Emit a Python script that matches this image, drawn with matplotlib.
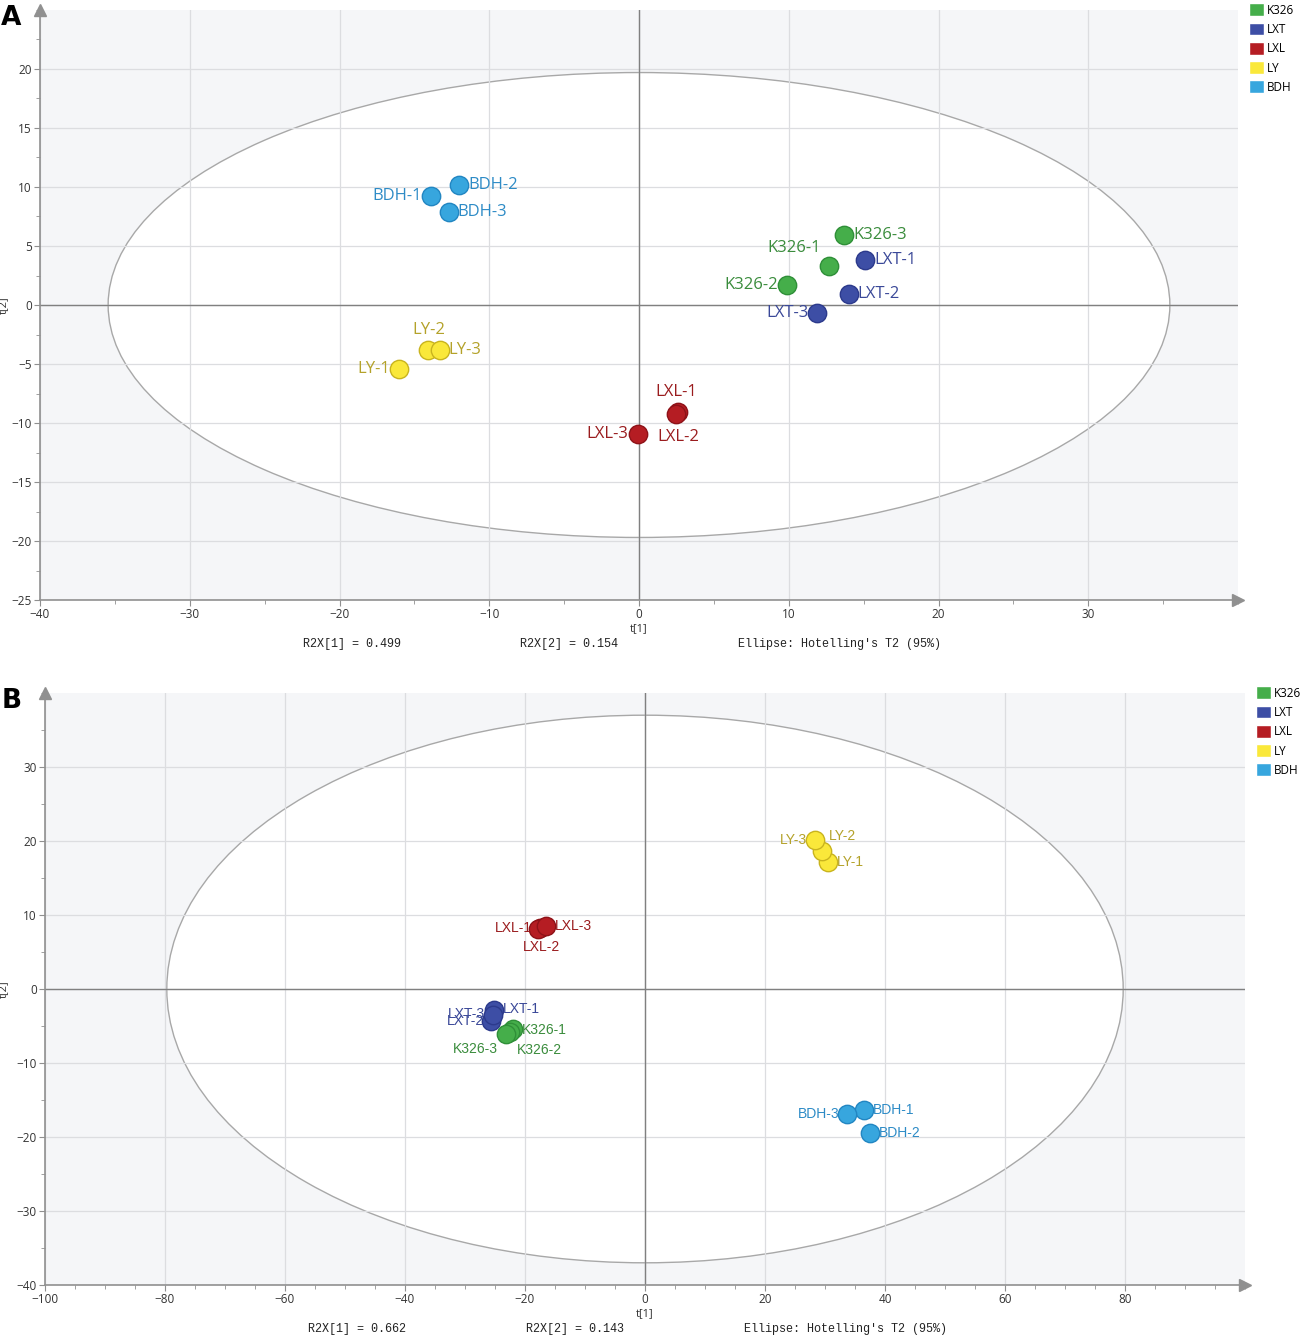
import numpy as np
import matplotlib.pyplot as plt
from matplotlib.patches import Ellipse, Patch
from matplotlib.ticker import MultipleLocator

plt.rcParams['font.family'] = ['Open Sans', 'DejaVu Sans']

groups = ["K326", "LXT", "LXL", "LY", "BDH"]
fill_col = {"K326": "#45AE4A", "LXT": "#3D4EA5", "LXL": "#B51D23", "LY": "#FAE83A", "BDH": "#37A6DE"}
edge_col = {"K326": "#2F8F38", "LXT": "#2C3A8C", "LXL": "#8E1218", "LY": "#C9B41E", "BDH": "#2286C2"}
text_col = {"K326": "#3A8C3C", "LXT": "#3A4898", "LXL": "#9A1C1E", "LY": "#B4A22A", "BDH": "#2D8BC6"}

# panel A scores
a_names = ["K326-1", "K326-2", "K326-3", "LXT-1", "LXT-2", "LXT-3",
           "LXL-1", "LXL-2", "LXL-3", "LY-1", "LY-2", "LY-3",
           "BDH-1", "BDH-2", "BDH-3"]
a_t1 = [12.7, 9.9, 13.7, 15.1, 14.0, 11.9, 2.6, 2.5, -0.1, -16.0, -14.1, -13.3, -13.9, -12.0, -12.7]
a_t2 = [3.3, 1.7, 5.9, 3.8, 0.9, -0.7, -9.1, -9.2, -10.9, -5.4, -3.8, -3.8, 9.2, 10.2, 7.9]
a_r2x = ["0.499", "0.154"]
a_ellipse = (35.45, 19.7)

# panel B scores
b_names = a_names
b_t1 = [-22.0, -22.5, -23.2, -25.2, -25.7, -25.3, -17.5, -17.8, -16.5, 30.5, 29.5, 28.3, 36.5, 37.5, 33.7]
b_t2 = [-5.4, -5.8, -6.1, -2.9, -4.3, -3.5, 8.3, 8.1, 8.5, 17.2, 18.7, 20.2, -16.3, -19.4, -16.9]
b_r2x = ["0.662", "0.143"]
b_ellipse = (79.7, 37.0)

# label placement (pixel offsets, ha)
a_lab = {"K326-1": (-35, 18, "center"), "K326-2": (-9, 0, "right"), "K326-3": (9, 0, "left"),
         "LXT-1": (9, 0, "left"), "LXT-2": (9, 0, "left"), "LXT-3": (-9, 0, "right"),
         "LXL-1": (-2, 20, "center"), "LXL-2": (2, -23, "center"), "LXL-3": (-9, 0, "right"),
         "LY-1": (-9, 0, "right"), "LY-2": (1, 20, "center"), "LY-3": (9, 0, "left"),
         "BDH-1": (-9, 0, "right"), "BDH-2": (9, 0, "left"), "BDH-3": (9, 0, "left")}
b_lab = {"K326-1": (9, -1, "left"), "K326-2": (29, -18, "center"), "K326-3": (-30, -15, "center"),
         "LXT-1": (9, 1, "left"), "LXT-2": (-7, 0, "right"), "LXT-3": (-8, 1, "right"),
         "LXL-1": (-8, 0, "right"), "LXL-2": (3, -18, "center"), "LXL-3": (9, 0, "left"),
         "LY-1": (9, 0, "left"), "LY-2": (7, 15, "left"), "LY-3": (-8, 0, "right"),
         "BDH-1": (9, 0, "left"), "BDH-2": (9, 0, "left"), "BDH-3": (-8, 0, "right")}

fig = plt.figure(figsize=(13.04, 13.40), dpi=100)


def panel(rect, t1, t2, names, labs, ell, xlim, ylim, xmaj, xmin, ymaj, ymin,
          r2x, letter, lab_font, lab_size, leg_x, r2x_pos, r2x_x):
    ax = fig.add_axes(rect)
    ax.set_facecolor("#F5F6F8")
    ax.add_patch(Ellipse((0, 0), 2 * ell[0], 2 * ell[1], facecolor="white",
                         edgecolor="#A8A8A8", lw=1.0, zorder=1))
    ax.set_xticks(np.arange(xlim[0], xlim[1], xmaj))
    ax.set_yticks(np.arange(ylim[0], ylim[1], ymaj))
    ax.xaxis.set_minor_locator(MultipleLocator(xmin))
    ax.yaxis.set_minor_locator(MultipleLocator(ymin))
    ax.set_xlim(*xlim)
    ax.set_ylim(*ylim)
    ax.grid(True, which="major", color="#DCDDE0", lw=0.9)
    ax.axhline(0, color="#808080", lw=1.0, zorder=2)
    ax.axvline(0, color="#808080", lw=1.0, zorder=2)
    for s in ["top", "right"]:
        ax.spines[s].set_visible(False)
    for s in ["left", "bottom"]:
        ax.spines[s].set_color("#909090")
        ax.spines[s].set_linewidth(1.2)
    ax.tick_params(which="major", length=4, color="#909090", labelsize=8.5,
                   labelcolor="#333333", pad=2)
    ax.tick_params(which="minor", length=3, color="#909090")
    ax.plot(1, 0, ">", color="#909090", ms=8, transform=ax.transAxes, clip_on=False)
    ax.plot(0, 1, "^", color="#909090", ms=8, transform=ax.transAxes, clip_on=False)

    for n, x, y in zip(names, t1, t2):
        g = n.split("-")[0]
        ax.scatter(x, y, s=175, color=fill_col[g], edgecolor=edge_col[g], lw=1.0, zorder=4)
        dx, dy, ha = labs[n]
        ax.annotate(n, (x, y), xytext=(dx, dy), textcoords="offset pixels",
                    ha=ha, va="center", color=text_col[g], fontsize=lab_size,
                    family=lab_font, zorder=5)

    ax.set_xlabel("t[1]", fontsize=8, color="#333333", labelpad=1)
    ax.set_ylabel("t[2]", fontsize=8, color="#333333")
    bbox = ax.get_position()
    ax.yaxis.set_label_coords(-(bbox.x0 * 1304 - 9) / (bbox.width * 1304), 0.5)

    texts = ["R2X[1] = " + r2x[0], "R2X[2] = " + r2x[1], "Ellipse: Hotelling's T2 (95%)"]
    for xp, t in zip(r2x_x, texts):
        fig.text(xp / 1304, r2x_pos, t, ha="center", va="center",
                 family="Liberation Mono", fontsize=8.5, color="#222222")
    fig.text(0.001, bbox.y1 - 0.006, letter, fontsize=19, fontweight="bold",
             family="DejaVu Sans", va="center", ha="left")

    handles = [Patch(facecolor=fill_col[g], edgecolor="white", label=g) for g in groups]
    fig.legend(handles=handles, loc="upper left",
               bbox_to_anchor=(leg_x, bbox.y1 + 0.005), frameon=False,
               fontsize=8.5, handlelength=1.3, handleheight=1.3,
               handletextpad=0.25, labelspacing=0.5, borderaxespad=0, borderpad=0)
    return ax


panel([40 / 1304, 1 - 600 / 1340, 1198 / 1304, 590 / 1340],
      a_t1, a_t2, a_names, a_lab, a_ellipse, (-40, 40), (-25, 25),
      10, 5, 5, 2.5, a_r2x, "A", "Open Sans", 12, 1249 / 1304, 1 - 644 / 1340,
      (352, 569, 840))

panel([45 / 1304, 1 - 1285 / 1340, 1200 / 1304, 592 / 1340],
      b_t1, b_t2, b_names, b_lab, b_ellipse, (-100, 100), (-40, 40),
      20, 5, 10, 5, b_r2x, "B", "Liberation Sans", 10, 1256 / 1304, 1 - 1329 / 1340,
      (357, 575, 846))

fig.savefig("out.png", dpi=100)
